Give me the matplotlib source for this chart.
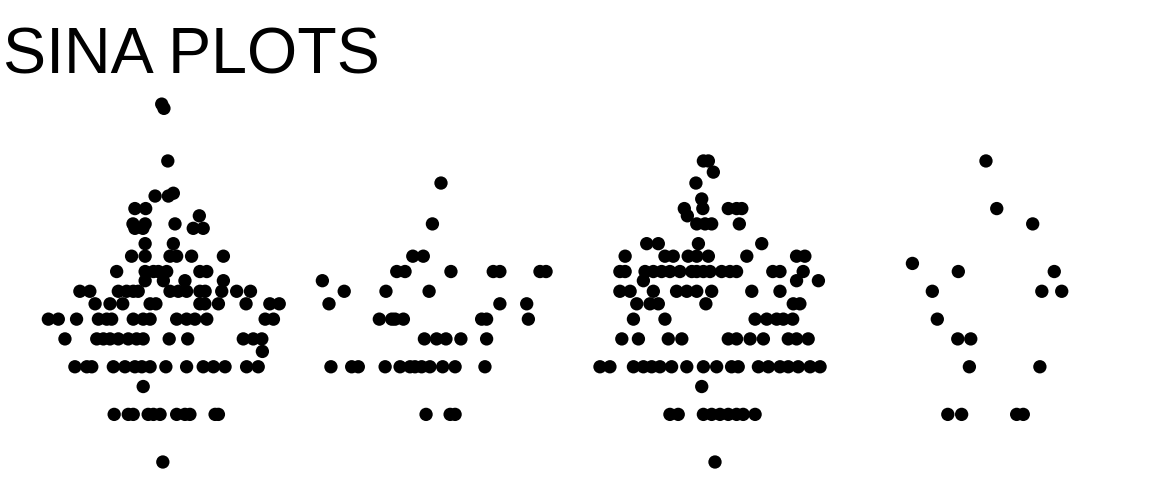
import numpy as np
import matplotlib.pyplot as plt

# ============================================================
# Data: value per point and its sina offset (fraction of a band)
# ============================================================
groups = ["A", "B", "C", "D"]

g1_values = [183, 172, 80, 48, 48, 50, 40, 40, 32, 32, 30, 30, 32, 36, 30, 30, 24, 24,
             20, 20, 20, 20, 20, 20,
             16, 16, 16, 16, 16, 16, 16,
             14, 14, 14, 14,
             12, 12, 12, 12, 12, 12, 12, 12, 12, 12, 12, 12, 12, 12,
             10, 10, 10, 10, 10, 10, 10, 10, 10, 10, 10,
             8, 8, 8, 8, 8, 8, 8, 8, 8, 8, 8, 8, 8, 8, 8,
             6, 6, 6, 6, 6, 6, 6, 6, 6, 6, 6, 6, 6,
             5,
             4, 4, 4, 4, 4, 4, 4, 4, 4, 4, 4, 4, 4, 4, 4,
             3,
             2, 2, 2, 2, 2, 2, 2, 2, 2, 2, 2,
             1]
g1_offsets = [-0.001, 0.007, 0.021, -0.025, 0.023, 0.041, -0.098, -0.059, -0.105, -0.061,
              -0.098, -0.069, 0.047, 0.135, 0.113, 0.149, -0.061, 0.041,
              -0.110, -0.061, 0.029, 0.053, 0.107, 0.222,
              -0.164, -0.061, -0.031, -0.013, 0.017, 0.137, 0.162,
              -0.061, 0.005, 0.083, 0.222,
              -0.297, -0.261, -0.158, -0.128, -0.104, -0.086, 0.029, 0.059, 0.089, 0.137,
              0.156, 0.216, 0.270, 0.320,
              -0.242, -0.188, -0.142, -0.043, -0.022, 0.137, 0.155, 0.204, 0.304, 0.390, 0.424,
              -0.411, -0.375, -0.309, -0.230, -0.200, -0.182, -0.104, -0.068, -0.043, 0.053,
              0.089, 0.119, 0.162, 0.373, 0.403,
              -0.351, -0.236, -0.212, -0.188, -0.158, -0.122, -0.092, -0.068, 0.026, 0.093,
              0.294, 0.330, 0.361,
              0.363,
              -0.315, -0.272, -0.254, -0.176, -0.134, -0.098, -0.073, -0.043, 0.014, 0.089,
              0.149, 0.186, 0.228, 0.306, 0.348,
              -0.068,
              -0.173, -0.122, -0.104, -0.050, -0.031, -0.007, 0.053, 0.083, 0.101, 0.192, 0.204,
              0.003]

g2_values = [58, 32, 20, 20,
             16, 16, 16, 16, 16, 16, 16,
             14,
             12, 12, 12,
             10, 10, 10,
             8, 8, 8, 8, 8, 8, 8,
             6, 6, 6, 6, 6,
             4, 4, 4, 4, 4, 4, 4, 4, 4, 4, 4, 4,
             2, 2, 2]
g2_offsets = [0.009, -0.022, -0.093, -0.055,
              -0.151, -0.121, 0.045, 0.198, 0.222, 0.367, 0.389,
              -0.420,
              -0.341, -0.190, -0.034,
              -0.396, 0.222, 0.319,
              -0.214, -0.169, -0.157, -0.127, 0.156, 0.174, 0.325,
              -0.051, -0.007, 0.027, 0.081, 0.174,
              -0.389, -0.314, -0.290, -0.193, -0.139, -0.103, -0.085, -0.061, -0.031, 0.015,
              0.060, 0.168,
              -0.045, 0.042, 0.060]

g3_values = [80, 80, 68, 58, 46,
             40, 40, 40, 40, 40,
             36,
             32, 32, 32, 32,
             24, 24, 24, 24,
             20, 20, 20, 20, 20, 20, 20, 20, 20,
             16, 16, 16, 16, 16, 16, 16, 16, 16, 16, 16, 16, 16, 16, 16, 16, 16,
             14, 14, 14,
             12, 12, 12, 12, 12, 12, 12, 12, 12,
             10, 10, 10, 10, 10, 10,
             8, 8, 8, 8, 8, 8, 8,
             6, 6, 6, 6, 6, 6, 6, 6, 6, 6, 6,
             4, 4, 4, 4, 4, 4, 4, 4, 4, 4, 4, 4, 4, 4, 4, 4, 4, 4, 4,
             3,
             2, 2, 2, 2, 2, 2, 2, 2, 2,
             1]
g3_offsets = [-0.042, -0.024, -0.006, -0.069, -0.048,
              -0.111, -0.044, 0.048, 0.078, 0.097,
              -0.100,
              -0.066, -0.036, -0.012, 0.088,
              -0.247, -0.205, -0.060, 0.169,
              -0.325, -0.181, -0.151, -0.097, -0.066, -0.024, 0.115, 0.295, 0.325,
              -0.344, -0.325, -0.253, -0.223, -0.193, -0.163, -0.127, -0.084, -0.066, -0.042,
              -0.018, 0.024, 0.054, 0.078, 0.209, 0.235, 0.319,
              -0.259, 0.295, 0.374,
              -0.344, -0.307, -0.223, -0.139, -0.102, -0.066, -0.012, 0.133, 0.235,
              -0.283, -0.235, -0.205, -0.033, 0.283, 0.307,
              -0.295, -0.181, 0.145, 0.187, 0.223, 0.247, 0.281,
              -0.337, -0.277, -0.169, -0.120, 0.048, 0.078, 0.127, 0.175, 0.265, 0.295, 0.337,
              -0.416, -0.380, -0.295, -0.259, -0.229, -0.199, -0.157, -0.102, -0.042, 0.006,
              0.060, 0.084, 0.157, 0.193, 0.235, 0.265, 0.301, 0.344, 0.380,
              -0.048,
              -0.163, -0.133, -0.042, -0.012, 0.018, 0.048, 0.078, 0.102, 0.145,
              0.000]

g4_values = [80, 40, 32, 18, 16, 16, 12, 12, 12, 8, 6, 6, 4, 4, 2, 2, 2, 2]
g4_offsets = [-0.020, 0.019, 0.149, -0.286, -0.120, 0.227, -0.214, 0.182, 0.254,
              -0.196, -0.122, -0.075, -0.080, 0.175, -0.158, -0.108, 0.091, 0.115]

all_values = [g1_values, g2_values, g3_values, g4_values]
all_offsets = [g1_offsets, g2_offsets, g3_offsets, g4_offsets]

# ============================================================
# Figure
# ============================================================
W, H, DPI = 1152, 480, 100
fig = plt.figure(figsize=(W / DPI, H / DPI), dpi=DPI)
ax = fig.add_axes([0, 0, 1, 1])

for i, (vals, offs) in enumerate(zip(all_values, all_offsets)):
    x = i + np.array(offs)
    ax.scatter(x, vals, s=92, color="black", edgecolors="none")

# layout: band width 276.5 px, first centre at 162 px; log y with 68.7 px per e-fold
band = 276.5
x0 = 162.0
ax.set_xlim(-x0 / band, (W - x0) / band)
ax.set_yscale("log")
ax.set_ylim(np.exp(-(H - 462) / 68.7), np.exp(462 / 68.7))
ax.axis("off")

fig.text(3 / W, 1 - 73 / H, "SINA PLOTS", fontsize=46.5,
         family="Liberation Sans", color="black", ha="left", va="baseline")

fig.savefig("out.png", dpi=DPI)
